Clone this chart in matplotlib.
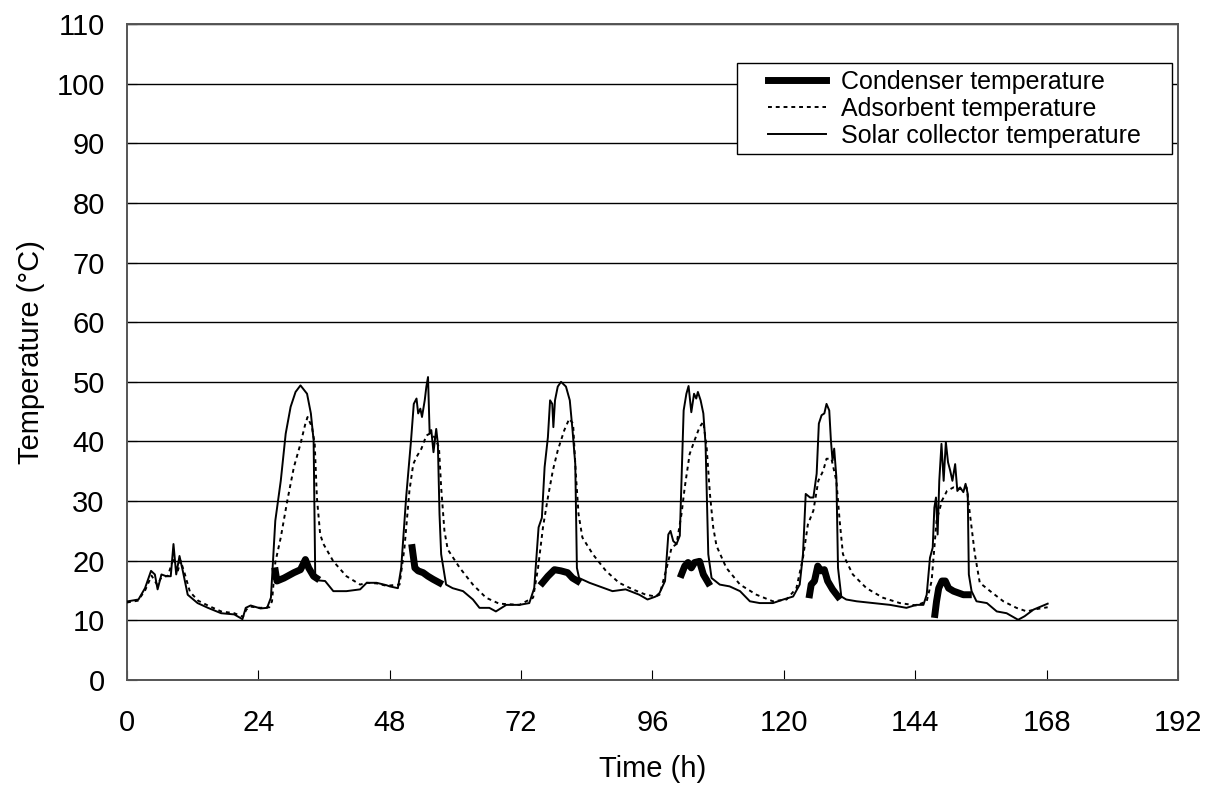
import numpy as np
import matplotlib
matplotlib.use('Agg')
import matplotlib.pyplot as plt
from matplotlib.patches import Rectangle

plt.rcParams['font.family'] = ['Liberation Sans', 'DejaVu Sans']

# Solar collector temperature (time h, temp °C)
solar_t = [0.2, 2.1, 3.3, 4.4, 5.1, 5.6, 6.3, 7.2, 8.0, 8.5, 9.0, 9.6, 10.2, 11.1, 12.9, 14.8,
           17.2, 19.6, 21.1, 21.7, 22.6, 24.4, 25.6, 26.3, 27.1, 28.1, 29.0, 29.9, 30.8, 31.7,
           32.9, 33.6, 34.1, 34.4, 35.0, 36.2, 37.7, 40.1, 42.6, 43.8, 45.6, 47.4, 48.0, 49.5,
           50.1, 51.0, 51.9, 52.4, 52.9, 53.2, 53.6, 53.9, 54.4, 54.7, 55.0, 55.3, 55.6, 56.0,
           56.5, 56.8, 57.1, 57.4, 58.3, 59.5, 61.4, 63.2, 64.4, 66.2, 67.4, 69.3, 71.7, 73.5,
           74.4, 75.2, 75.8, 76.3, 76.9, 77.3, 77.7, 77.9, 78.2, 78.7, 79.3, 80.2, 80.9, 81.4,
           81.9, 82.2, 82.6, 84.5, 86.3, 88.7, 91.1, 93.6, 95.1, 96.6, 97.3, 98.3, 98.9, 99.3,
           99.8, 100.4, 101.0, 101.3, 101.7, 102.2, 102.6, 103.1, 103.6, 104.0, 104.3, 104.8,
           105.3, 105.7, 106.2, 106.8, 108.3, 110.1, 112.0, 113.8, 115.6, 118.0, 119.9, 121.7,
           122.9, 123.5, 124.0, 124.8, 125.4, 126.0, 126.4, 126.9, 127.4, 127.8, 128.3, 128.6,
           128.9, 129.2, 129.6, 129.9, 130.5, 131.4, 133.3, 136.3, 139.4, 142.4, 144.2, 145.5,
           146.1, 146.7, 147.2, 147.5, 147.8, 148.1, 148.4, 148.8, 149.2, 149.6, 150.0, 150.4,
           150.8, 151.3, 151.7, 152.2, 152.8, 153.2, 153.6, 153.8, 154.3, 155.2, 157.1, 158.9,
           160.7, 162.8, 164.0, 165.6, 168.2]
solar_T = [13.2, 13.5, 15.4, 18.3, 17.7, 15.2, 17.7, 17.4, 17.4, 22.8, 17.7, 20.8, 18.3, 14.3, 12.9, 12.1,
           11.2, 11.0, 10.2, 12.1, 12.5, 12.0, 12.1, 13.8, 26.7, 33.4, 41.3, 45.8, 48.3, 49.4,
           48.0, 44.7, 40.2, 17.1, 16.7, 16.6, 14.9, 14.9, 15.2, 16.3, 16.3, 15.9, 15.7, 15.4,
           18.8, 30.6, 40.2, 46.3, 47.2, 44.7, 45.5, 44.1, 46.9, 49.2, 50.8, 41.3, 41.9, 38.2,
           42.1, 39.6, 27.8, 21.1, 16.0, 15.4, 14.9, 13.5, 12.1, 12.1, 11.5, 12.6, 12.6, 12.9,
           15.4, 25.6, 27.2, 35.7, 40.7, 46.9, 46.3, 42.4, 46.9, 49.2, 50.0, 49.2, 46.9, 41.9,
           36.2, 18.8, 17.1, 16.3, 15.7, 14.9, 15.2, 14.3, 13.5, 14.0, 14.6, 16.6, 24.4, 25.0,
           23.3, 22.8, 24.2, 33.4, 45.2, 48.0, 49.3, 44.9, 48.0, 47.2, 48.3, 46.9,
           44.7, 39.6, 21.1, 17.1, 16.0, 15.7, 14.9, 13.2, 12.9, 12.9, 13.5, 14.0,
           16.0, 21.1, 31.2, 30.6, 30.6, 34.6, 43.0, 44.4, 44.7, 46.3, 45.2, 40.2,
           36.8, 38.8, 34.0, 18.8, 14.0, 13.5, 13.2, 12.9, 12.6, 12.1, 12.6, 12.6,
           14.3, 20.5, 22.2, 28.9, 30.6, 24.4, 33.4, 39.6, 33.4, 39.9, 36.5, 35.1,
           33.4, 36.2, 31.7, 32.3, 31.5, 32.9, 31.2, 17.7, 14.9, 13.2, 12.9, 11.5,
           11.2, 10.1, 10.7, 11.8, 12.8]

# Adsorbent temperature
ads_t = [0.0, 2.0, 3.3, 4.5, 5.5, 6.3, 7.5, 8.5, 9.2, 9.8, 10.5, 11.5, 13.0, 15.0, 17.2, 19.6,
         21.2, 21.8, 22.6, 24.4, 26.0, 26.5, 27.1, 28.1, 29.3, 30.5, 31.7, 32.6, 33.0, 33.8,
         34.3, 34.7, 35.3, 35.9, 37.7, 40.1, 42.6, 43.8, 45.6, 47.4, 49.8, 50.7, 51.6, 52.3,
         52.9, 53.8, 54.7, 55.3, 56.2, 57.0, 57.4, 58.0, 58.6, 60.8, 63.2, 65.6, 68.0, 71.7,
         74.2, 75.1, 76.0, 76.9, 77.8, 78.7, 79.9, 80.8, 81.5, 82.0, 82.5, 83.2, 85.1, 87.5,
         89.9, 92.4, 94.8, 96.6, 97.3, 98.6, 99.5, 100.4, 101.3, 101.9, 102.8, 103.7, 104.6,
         105.3, 105.9, 106.5, 107.1, 107.7, 109.5, 112.0, 115.0, 118.0, 120.5, 122.3, 123.5,
         124.4, 125.4, 126.3, 127.2, 127.8, 128.7, 129.6, 130.2, 130.8, 132.6, 135.1, 138.1,
         141.2, 144.2, 146.1, 147.0, 147.9, 148.9, 149.8, 151.0, 152.2, 153.4, 154.0, 154.9,
         155.8, 157.7, 160.1, 162.5, 164.4, 166.2, 168.2]
ads_T = [13.0, 13.3, 15.0, 17.5, 16.0, 17.2, 17.5, 20.5, 18.0, 20.0, 18.0, 14.8, 13.3, 12.4, 11.5, 11.2,
         10.6, 11.8, 12.3, 12.1, 12.2, 13.2, 19.7, 23.9, 30.1, 35.7, 39.6, 43.0, 44.1, 42.4,
         39.6, 30.6, 24.4, 22.8, 19.9, 17.4, 16.0, 16.3, 16.2, 15.8, 16.0, 22.2, 31.7, 36.2,
         37.4, 38.8, 41.0, 41.3, 40.7, 39.0, 32.3, 25.0, 21.9, 18.8, 16.0, 13.8, 12.8, 12.6,
         13.8, 18.8, 25.6, 30.6, 35.1, 38.5, 41.9, 43.8, 43.0, 34.6, 27.8, 23.9, 21.1, 18.3,
         16.3, 15.2, 14.3, 14.0, 14.3, 18.8, 22.2, 22.8, 27.8, 32.3, 37.9, 40.2, 42.4,
         43.3, 39.0, 31.2, 25.6, 22.5, 18.8, 16.0, 14.3, 13.2, 13.5, 15.4, 20.5,
         26.1, 28.4, 33.4, 35.1, 37.1, 37.1, 33.4, 26.7, 21.1, 17.7, 15.4, 13.8,
         12.9, 12.5, 13.2, 16.6, 26.7, 30.1, 31.7, 32.3, 32.0, 32.3, 27.8, 21.1,
         16.3, 14.9, 13.2, 12.1, 11.5, 11.9, 12.2]

# Condenser temperature (daytime only, NaN separates the days)
cond_t = [27.1, 27.4, 28.7, 30.5, 31.7, 32.6, 33.2, 34.1, 34.6, np.nan,
          52.1, 52.6, 53.2, 54.1, 55.0, 55.9, 57.1, np.nan,
          75.9, 76.9, 78.1, 79.3, 80.5, 81.4, 82.3, np.nan,
          101.3, 101.9, 102.5, 103.1, 103.7, 104.6, 105.3, 106.2, np.nan,
          124.7, 125.0, 125.6, 126.2, 126.8, 127.4, 128.0, 128.9, 129.9, np.nan,
          147.6, 147.9, 148.3, 148.9, 149.5, 150.1, 151.0, 151.9, 152.8, 153.7]
cond_T = [18.3, 16.6, 17.1, 18.0, 18.5, 20.2, 18.8, 17.4, 17.1, np.nan,
          22.2, 18.8, 18.3, 18.0, 17.4, 16.9, 16.3, np.nan,
          16.3, 17.4, 18.5, 18.3, 18.0, 17.1, 16.6, np.nan,
          17.7, 19.1, 19.7, 18.8, 19.7, 19.9, 17.7, 16.3, np.nan,
          14.3, 16.0, 16.6, 19.1, 18.3, 18.5, 16.6, 15.2, 14.0, np.nan,
          11.0, 13.2, 15.4, 16.6, 16.6, 15.4, 14.9, 14.6, 14.3, 14.3]

x_ticks = list(range(0, 193, 24))
y_ticks = list(range(0, 111, 10))

fig = plt.figure(figsize=(12.16, 7.92), dpi=100)
ax = fig.add_axes([0.1044, 0.1414, 0.8643, 0.8283])

ax.plot(cond_t, cond_T, color='black', lw=5, label='Condenser temperature', zorder=4)
ax.plot(ads_t, ads_T, color='black', lw=1.4, ls=(0, (2, 2)), label='Adsorbent temperature', zorder=3)
ax.plot(solar_t, solar_T, color='black', lw=1.4, label='Solar collector temperature', zorder=3)

ax.set_xlim(0, 192)
ax.set_ylim(0, 110)
ax.set_xticks(x_ticks)
ax.set_yticks(y_ticks)
ax.tick_params(axis='x', direction='in', length=7, labelsize=21, pad=21)
ax.tick_params(axis='y', direction='in', length=7, labelsize=21, pad=16)
ax.yaxis.grid(True, color='black', lw=1.0)
ax.set_axisbelow(True)
for s in ax.spines.values():
    s.set_color('#555555')
    s.set_linewidth(1.4)

ax.set_xlabel('Time (h)', fontsize=21, labelpad=13)
ax.set_ylabel('Temperature (°C)', fontsize=21, labelpad=8)

# legend without its own frame; a wider box is drawn round it below
ax_w = ax.get_window_extent().width
ax_h = ax.get_window_extent().height
side = 25 / ax_w
leg = ax.legend(loc='upper right', bbox_to_anchor=(0.994 - side, 0.94), fontsize=18,
                frameon=False, handlelength=2.3, borderpad=0.25, labelspacing=0.12,
                handletextpad=0.6, borderaxespad=0)
leg.set_zorder(6)

fig.canvas.draw()
bb = leg.get_window_extent().transformed(ax.transAxes.inverted())
ax.add_patch(Rectangle((bb.x0 - side, bb.y0), bb.width + 2 * side, bb.height,
                       transform=ax.transAxes, facecolor='white', edgecolor='black',
                       lw=1.0, zorder=5))

fig.savefig('out.png', dpi=100)
